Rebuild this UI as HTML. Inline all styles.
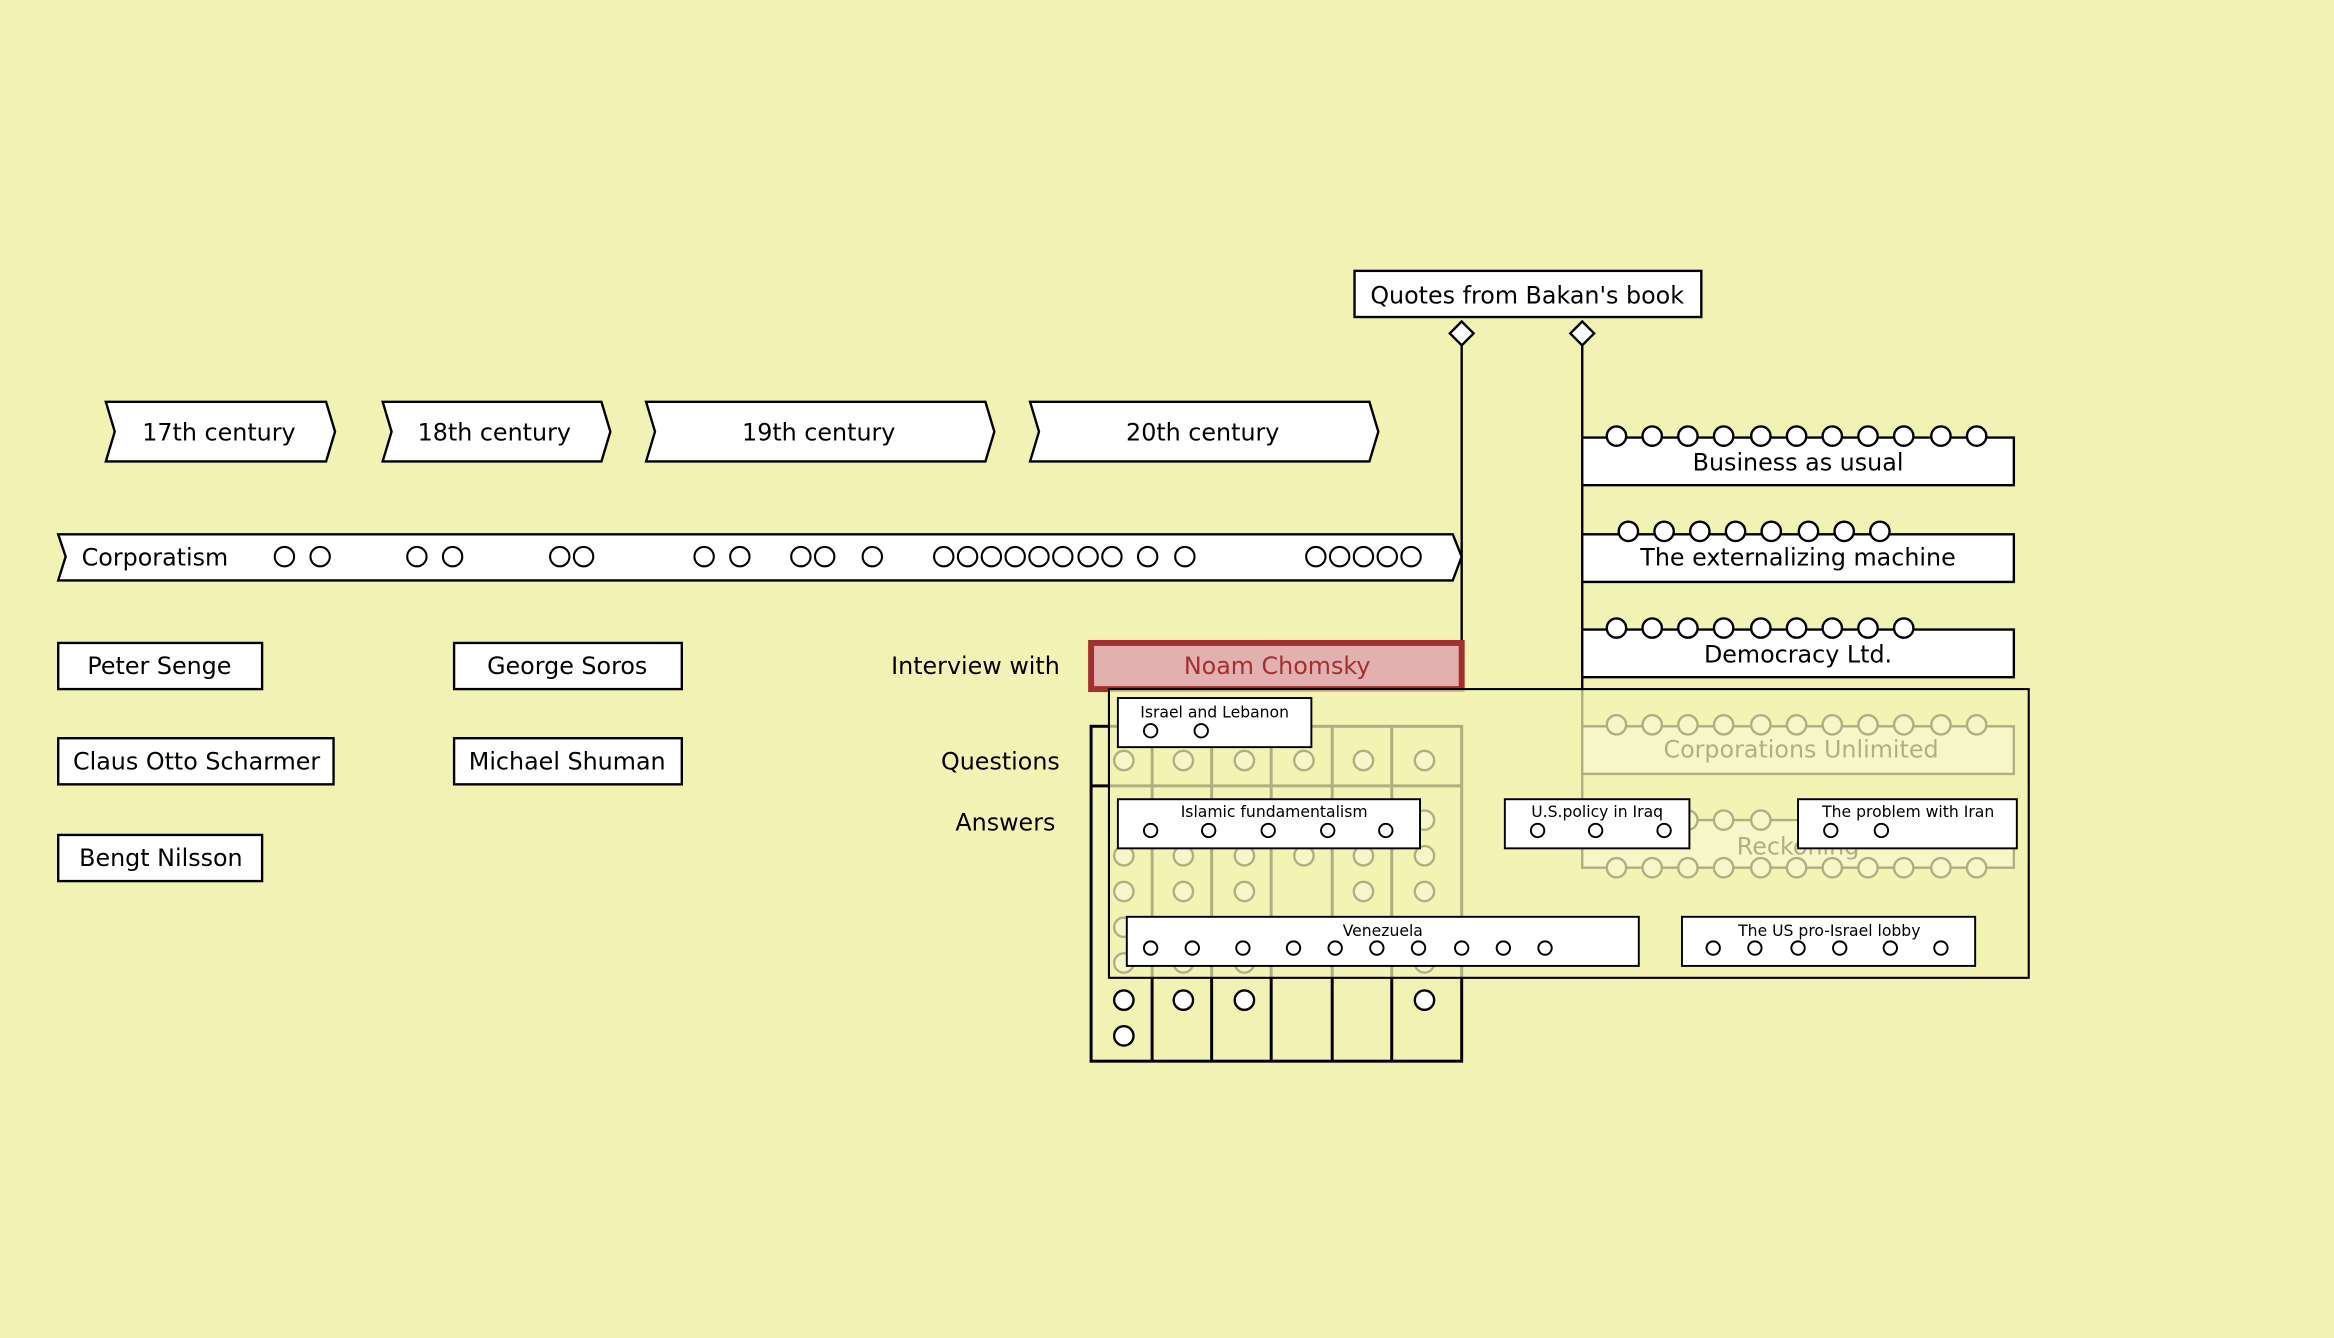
<!DOCTYPE html>
<html><head><meta charset="utf-8"><style>
html,body{margin:0;padding:0;background:#f2f2b4;}
svg{display:block;}
text{font-family:"DejaVu Sans","Liberation Sans",sans-serif;}
</style></head><body>
<svg width="2334" height="1338" viewBox="0 0 1568 899" xmlns="http://www.w3.org/2000/svg">
<rect width="1568" height="899" fill="#f2f2b4"/>
<g stroke="#000" stroke-width="1.6" fill="#fff">
<!-- grid (under panel) -->
<rect x="733" y="488" width="249" height="225" fill="none" stroke-width="2"/>
<g stroke-width="2">
<line x1="774" y1="488" x2="774" y2="713"/><line x1="814" y1="488" x2="814" y2="713"/>
<line x1="854" y1="488" x2="854" y2="713"/><line x1="895" y1="488" x2="895" y2="713"/>
<line x1="935" y1="488" x2="935" y2="713"/><line x1="733" y1="528" x2="982" y2="528"/>
</g>
<g>
<circle cx="755" cy="511" r="6.5"/><circle cx="795" cy="511" r="6.5"/><circle cx="836" cy="511" r="6.5"/><circle cx="876" cy="511" r="6.5"/><circle cx="916" cy="511" r="6.5"/><circle cx="957" cy="511" r="6.5"/>
<circle cx="957" cy="551" r="6.5"/>
<circle cx="755" cy="575" r="6.5"/><circle cx="795" cy="575" r="6.5"/><circle cx="836" cy="575" r="6.5"/><circle cx="876" cy="575" r="6.5"/><circle cx="916" cy="575" r="6.5"/><circle cx="957" cy="575" r="6.5"/>
<circle cx="755" cy="599" r="6.5"/><circle cx="795" cy="599" r="6.5"/><circle cx="836" cy="599" r="6.5"/><circle cx="916" cy="599" r="6.5"/><circle cx="957" cy="599" r="6.5"/>
<circle cx="755" cy="623" r="6.5"/><circle cx="755" cy="647" r="6.5"/><circle cx="795" cy="647" r="6.5"/><circle cx="836" cy="647" r="6.5"/><circle cx="957" cy="647" r="6.5"/>
<circle cx="755" cy="672" r="6.5"/><circle cx="795" cy="672" r="6.5"/><circle cx="836" cy="672" r="6.5"/><circle cx="957" cy="672" r="6.5"/>
<circle cx="755" cy="696" r="6.5"/>
</g>
<!-- connectors -->
<line x1="982" y1="232" x2="982" y2="463"/>
<line x1="1063" y1="232" x2="1063" y2="583"/>
<polygon points="982,216 990,224 982,232 974,224"/>
<polygon points="1063,216 1071,224 1063,232 1055,224"/>
<rect x="910" y="182" width="233" height="31"/>
<!-- series -->
<rect x="1063" y="294" width="290" height="32"/>
<rect x="1063" y="359" width="290" height="32"/>
<rect x="1063" y="423" width="290" height="32"/>
<rect x="1063" y="488" width="290" height="32"/>
<rect x="1063" y="551" width="290" height="32"/>
<g id="c11">
<circle cx="1086" cy="293" r="6.5"/><circle cx="1110" cy="293" r="6.5"/><circle cx="1134" cy="293" r="6.5"/><circle cx="1158" cy="293" r="6.5"/><circle cx="1183" cy="293" r="6.5"/><circle cx="1207" cy="293" r="6.5"/><circle cx="1231" cy="293" r="6.5"/><circle cx="1255" cy="293" r="6.5"/><circle cx="1279" cy="293" r="6.5"/><circle cx="1304" cy="293" r="6.5"/><circle cx="1328" cy="293" r="6.5"/>
</g>
<use href="#c11" y="194"/>
<use href="#c11" y="290"/>
<g>
<circle cx="1086" cy="551" r="6.5"/><circle cx="1110" cy="551" r="6.5"/><circle cx="1134" cy="551" r="6.5"/><circle cx="1158" cy="551" r="6.5"/><circle cx="1183" cy="551" r="6.5"/>
</g>
<g>
<circle cx="1094" cy="357" r="6.5"/><circle cx="1118" cy="357" r="6.5"/><circle cx="1142" cy="357" r="6.5"/><circle cx="1166" cy="357" r="6.5"/><circle cx="1190" cy="357" r="6.5"/><circle cx="1215" cy="357" r="6.5"/><circle cx="1239" cy="357" r="6.5"/><circle cx="1263" cy="357" r="6.5"/>
</g>
<g>
<circle cx="1086" cy="422" r="6.5"/><circle cx="1110" cy="422" r="6.5"/><circle cx="1134" cy="422" r="6.5"/><circle cx="1158" cy="422" r="6.5"/><circle cx="1183" cy="422" r="6.5"/><circle cx="1207" cy="422" r="6.5"/><circle cx="1231" cy="422" r="6.5"/><circle cx="1255" cy="422" r="6.5"/><circle cx="1279" cy="422" r="6.5"/>
</g>
<!-- centuries -->
<polygon points="71,270 219,270 225,290 219,310 71,310 77,290"/>
<polygon points="257,270 404,270 410,290 404,310 257,310 263,290"/>
<polygon points="434,270 662,270 668,290 662,310 434,310 440,290"/>
<polygon points="692,270 920,270 926,290 920,310 692,310 698,290"/>
<polygon points="39,359 976,359 982,374 976,390 39,390 44,374"/>
<g stroke-width="1.4">
<circle cx="191" cy="374" r="6.5"/><circle cx="215" cy="374" r="6.5"/><circle cx="280" cy="374" r="6.5"/><circle cx="304" cy="374" r="6.5"/><circle cx="376" cy="374" r="6.5"/><circle cx="392" cy="374" r="6.5"/><circle cx="473" cy="374" r="6.5"/><circle cx="497" cy="374" r="6.5"/><circle cx="538" cy="374" r="6.5"/><circle cx="554" cy="374" r="6.5"/><circle cx="586" cy="374" r="6.5"/><circle cx="634" cy="374" r="6.5"/><circle cx="650" cy="374" r="6.5"/><circle cx="666" cy="374" r="6.5"/><circle cx="682" cy="374" r="6.5"/><circle cx="698" cy="374" r="6.5"/><circle cx="714" cy="374" r="6.5"/><circle cx="731" cy="374" r="6.5"/><circle cx="747" cy="374" r="6.5"/><circle cx="771" cy="374" r="6.5"/><circle cx="796" cy="374" r="6.5"/><circle cx="884" cy="374" r="6.5"/><circle cx="900" cy="374" r="6.5"/><circle cx="916" cy="374" r="6.5"/><circle cx="932" cy="374" r="6.5"/><circle cx="948" cy="374" r="6.5"/>
</g>
<rect x="39" y="432" width="137" height="31"/>
<rect x="305" y="432" width="153" height="31"/>
<rect x="39" y="496" width="185" height="31"/>
<rect x="305" y="496" width="153" height="31"/>
<rect x="39" y="561" width="137" height="31"/>
</g>
<g font-size="16" fill="#000" text-anchor="middle">
<text x="1026" y="204">Quotes from Bakan's book</text>
<text x="147" y="296">17th century</text>
<text x="332" y="296">18th century</text>
<text x="550" y="296">19th century</text>
<text x="808" y="296">20th century</text>
<text x="104" y="380">Corporatism</text>
<text x="107" y="453">Peter Senge</text>
<text x="381" y="453">George Soros</text>
<text x="132" y="517">Claus Otto Scharmer</text>
<text x="381" y="517">Michael Shuman</text>
<text x="108" y="582">Bengt Nilsson</text>
<text x="1208" y="316">Business as usual</text>
<text x="1208" y="380">The externalizing machine</text>
<text x="1208" y="445">Democracy Ltd.</text>
<text x="1210" y="509">Corporations Unlimited</text>
<text x="1208" y="574">Reckoning</text>
<text x="712" y="453" text-anchor="end">Interview with</text>
<text x="712" y="517" text-anchor="end">Questions</text>
<text x="709" y="558" text-anchor="end">Answers</text>
</g>
<rect x="733" y="432" width="249" height="31" fill="#e3b0b0" stroke="#a33030" stroke-width="4"/>
<text x="858" y="453" font-size="16" fill="#a33030" text-anchor="middle">Noam Chomsky</text>
<!-- overlay panel -->
<rect x="745" y="463" width="618" height="194" fill="#f2f2b4" fill-opacity="0.72" stroke="#000" stroke-width="1.4"/>
<g stroke="#000" stroke-width="1.3" fill="#fff">
<rect x="751" y="469" width="130" height="33"/>
<rect x="751" y="537" width="203" height="33"/>
<rect x="1011" y="537" width="124" height="33"/>
<rect x="1208" y="537" width="147" height="33"/>
<rect x="757" y="616" width="344" height="33"/>
<rect x="1130" y="616" width="197" height="33"/>
<circle cx="773" cy="491" r="4.5"/><circle cx="807" cy="491" r="4.5"/>
<circle cx="773" cy="558" r="4.5"/><circle cx="812" cy="558" r="4.5"/><circle cx="852" cy="558" r="4.5"/><circle cx="892" cy="558" r="4.5"/><circle cx="931" cy="558" r="4.5"/>
<circle cx="1033" cy="558" r="4.5"/><circle cx="1072" cy="558" r="4.5"/><circle cx="1118" cy="558" r="4.5"/>
<circle cx="1230" cy="558" r="4.5"/><circle cx="1264" cy="558" r="4.5"/>
<circle cx="773" cy="637" r="4.5"/><circle cx="801" cy="637" r="4.5"/><circle cx="835" cy="637" r="4.5"/><circle cx="869" cy="637" r="4.5"/><circle cx="897" cy="637" r="4.5"/><circle cx="925" cy="637" r="4.5"/><circle cx="953" cy="637" r="4.5"/><circle cx="982" cy="637" r="4.5"/><circle cx="1010" cy="637" r="4.5"/><circle cx="1038" cy="637" r="4.5"/>
<circle cx="1151" cy="637" r="4.5"/><circle cx="1179" cy="637" r="4.5"/><circle cx="1208" cy="637" r="4.5"/><circle cx="1236" cy="637" r="4.5"/><circle cx="1270" cy="637" r="4.5"/><circle cx="1304" cy="637" r="4.5"/>
</g>
<g font-size="10.5" fill="#000" text-anchor="middle">
<text x="816" y="482">Israel and Lebanon</text>
<text x="856" y="549">Islamic fundamentalism</text>
<text x="1073" y="549">U.S.policy in Iraq</text>
<text x="1282" y="549">The problem with Iran</text>
<text x="929" y="629">Venezuela</text>
<text x="1229" y="629">The US pro-Israel lobby</text>
</g>
</svg>
</body></html>
